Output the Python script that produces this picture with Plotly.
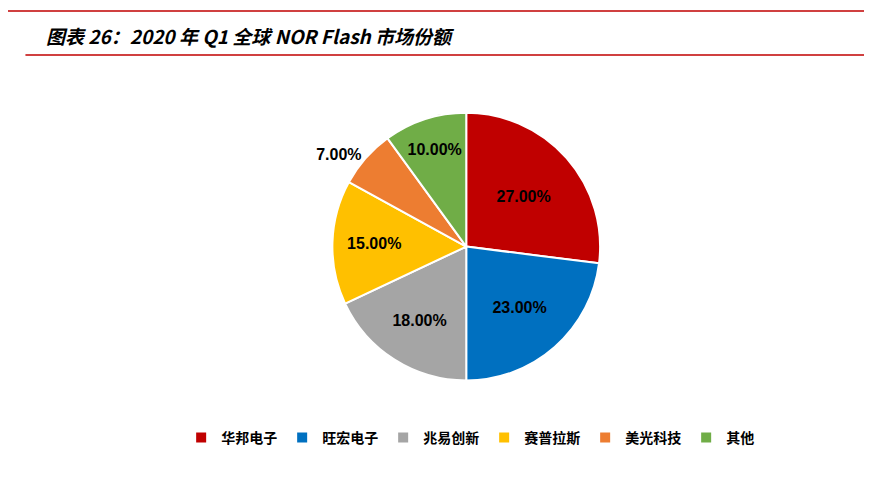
import plotly.graph_objects as go

labels = ["华邦电子", "旺宏电子", "兆易创新", "赛普拉斯", "美光科技", "其他"]
values = [27, 23, 18, 15, 7, 10]
colors = ["#C00000", "#0070C0", "#A5A5A5", "#FFC000", "#ED7D31", "#70AD47"]
positions = ["inside", "inside", "inside", "inside", "outside", "inside"]

fig = go.Figure(go.Pie(
    labels=labels, values=values, sort=False, direction="clockwise", rotation=0,
    marker=dict(colors=colors, line=dict(color="white", width=2)),
    texttemplate="%{value:.2f}%", textposition=positions,
    textfont=dict(family="Arial, Liberation Sans", size=16, color="black", weight="bold"),
    insidetextorientation="horizontal",
    domain=dict(x=[0.372, 0.679], y=[0.227, 0.783]),
))
W, H = 872, 482
fig.update_layout(
    width=W, height=H, margin=dict(l=0, r=0, t=0, b=0),
    paper_bgcolor="white", plot_bgcolor="white",
    showlegend=True,
    legend=dict(orientation="h", x=0.53, xanchor="center", y=1-430/H, yanchor="middle",
                font=dict(family="Noto Sans CJK SC", size=14, color="black", weight="bold"),
                itemwidth=30, tracegroupgap=0),
    shapes=[
        dict(type="line", xref="paper", yref="paper", x0=0, x1=1, y0=1-3/H, y1=1-3/H,
             line=dict(color="#C00000", width=1.5)),
        dict(type="line", xref="paper", yref="paper", x0=0.02, x1=0.985, y0=1-47/H, y1=1-47/H,
             line=dict(color="#C00000", width=1.5)),
    ],
    annotations=[dict(text="<i><b>图表 26：2020 年 Q1 全球 NOR Flash 市场份额</b></i>",
                      xref="paper", yref="paper", x=36/W, y=1-27/H, xanchor="left", yanchor="middle",
                      showarrow=False, font=dict(family="Noto Sans CJK SC", size=19, color="black"))],
)
fig.write_html("out.html")
